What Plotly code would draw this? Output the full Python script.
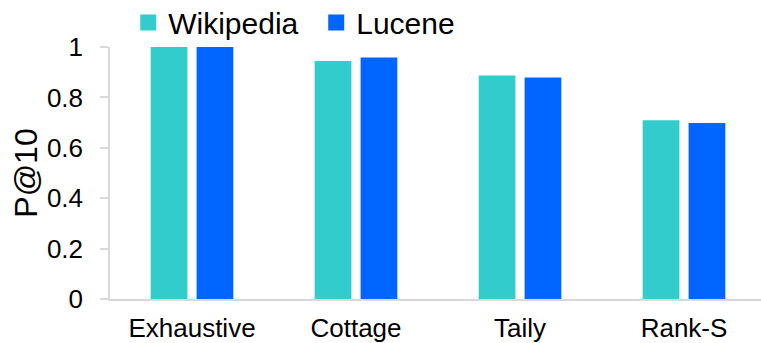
import plotly.graph_objects as go

# P@10 for each selection method on two collections
methods = ["Exhaustive", "Cottage", "Taily", "Rank-S"]
wikipedia = [1.0, 0.944, 0.887, 0.709]
lucene = [1.0, 0.958, 0.879, 0.698]
y_ticks = [0, 0.2, 0.4, 0.6, 0.8, 1]

TEAL = "#33CCCC"
BLUE = "#0066FF"
AXIS_GREY = "#D9D9D9"
FONT = "Liberation Sans, Arial, sans-serif"

fig = go.Figure()
fig.add_trace(go.Bar(name="Wikipedia", x=methods, y=wikipedia,
                     marker=dict(color=TEAL, line=dict(width=0)),
                     showlegend=False))
fig.add_trace(go.Bar(name="Lucene", x=methods, y=lucene,
                     marker=dict(color=BLUE, line=dict(width=0)),
                     showlegend=False))

# Legend entries with larger square swatches
for name, color in [("Wikipedia", TEAL), ("Lucene", BLUE)]:
    fig.add_trace(go.Scatter(name=name, x=[None], y=[None], mode="markers",
                             marker=dict(symbol="square", size=17, color=color),
                             showlegend=True))

fig.update_layout(
    width=761, height=343,
    margin=dict(l=110, r=0, t=47, b=44, autoexpand=False),
    paper_bgcolor="white", plot_bgcolor="white",
    barmode="group", bargap=0.44, bargroupgap=0.2,
    font=dict(family=FONT, color="black"),
    legend=dict(orientation="h", xref="paper", yref="paper",
                x=0.028, y=1.2, xanchor="left", yanchor="top",
                font=dict(size=30), itemsizing="trace",
                entrywidth=143, entrywidthmode="pixels",
                bgcolor="rgba(0,0,0,0)"),
)
fig.update_xaxes(
    type="category", range=[-0.5, 3.5 - 5 / 164],
    showline=True, linecolor=AXIS_GREY, linewidth=1.5,
    ticks="", showgrid=False, zeroline=False,
    tickfont=dict(size=26), ticklabelstandoff=5,
)
fig.update_yaxes(
    range=[0, 1], tickvals=y_ticks, ticktext=[f"{v:g}" for v in y_ticks],
    showline=True, linecolor=AXIS_GREY, linewidth=1.5,
    ticks="outside", ticklen=8, tickcolor=AXIS_GREY, tickwidth=1.5,
    showgrid=False, zeroline=False,
    tickfont=dict(size=26), ticklabelstandoff=12,
    title=dict(text="P@10", font=dict(size=32), standoff=0),
)

fig.write_html("out.html")
